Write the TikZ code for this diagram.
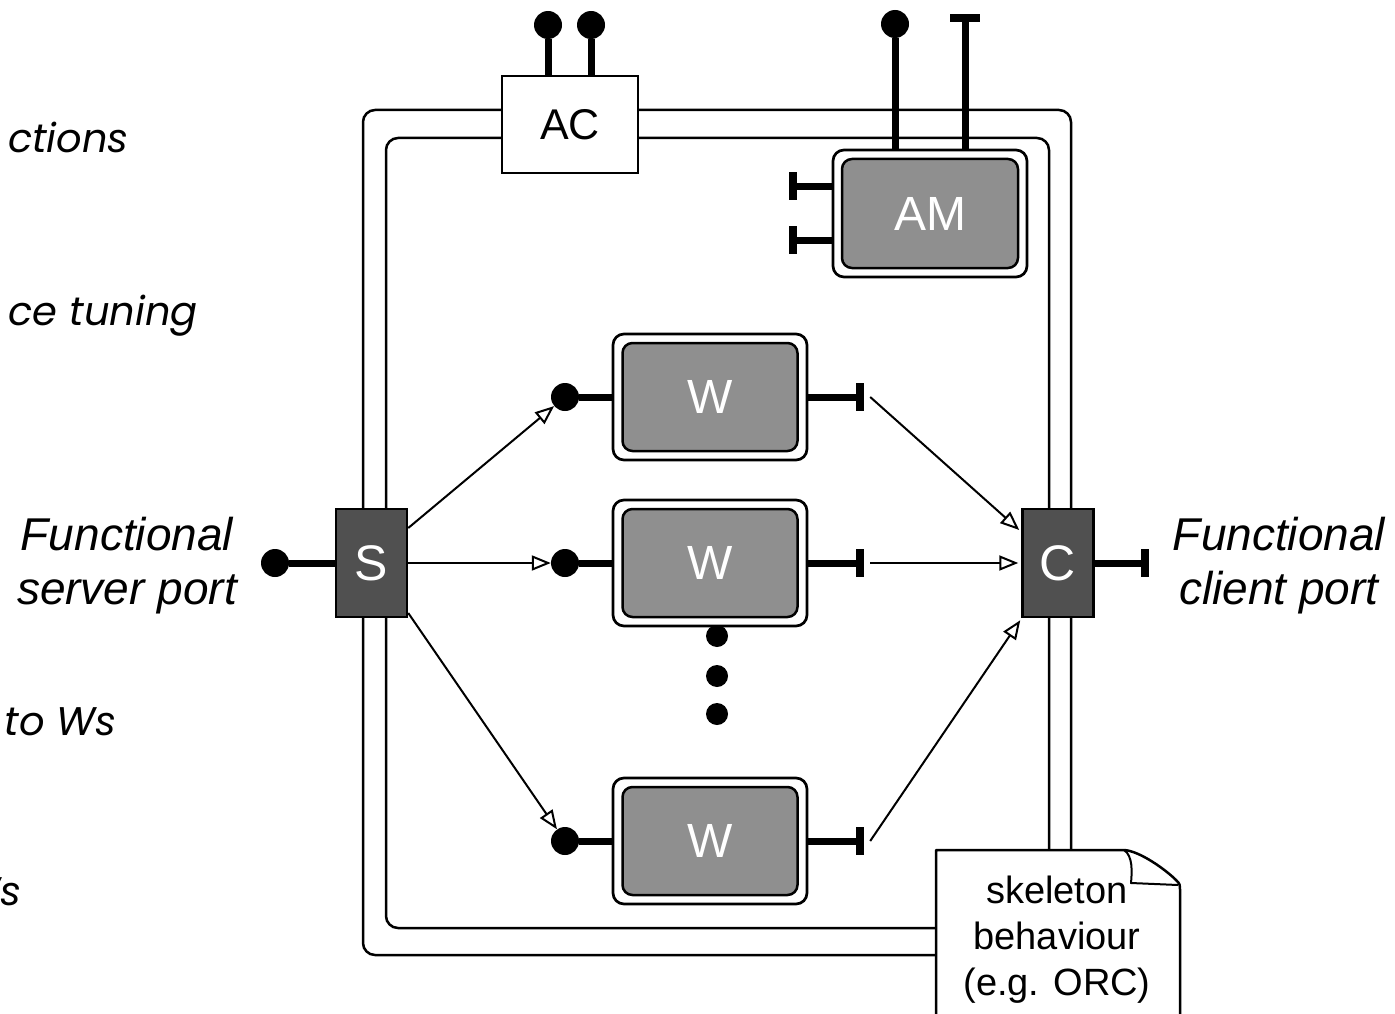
\documentclass[tikz,border=0pt]{standalone}
\usepackage{fontspec}
\setmainfont{Liberation Sans}
\newfontfamily\geofont{Poppins}
\usetikzlibrary{arrows.meta,calc}
\definecolor{boxgray}{HTML}{8F8F8F}
\definecolor{portgray}{HTML}{505050}
\begin{document}
\begin{tikzpicture}[x=1pt,y=-1pt,
  frame/.style={draw=black, line width=2.5pt, rounded corners=12pt},
  shell/.style={draw=black, fill=white, line width=2.7pt, rounded corners=11pt,
    minimum width=194pt, minimum height=126pt, inner sep=0pt},
  core/.style={draw=black, fill=boxgray, line width=2.5pt, rounded corners=10pt,
    minimum width=175pt, minimum height=108pt, inner sep=0pt, text=white,
    font=\fontsize{48}{56}\selectfont},
  portbox/.style={draw=black, fill=portgray, line width=2.5pt, minimum width=71pt,
    minimum height=108pt, inner sep=0pt, text=white, font=\fontsize{50}{56}\selectfont},
  ball/.style={circle, fill=black, minimum size=28pt, inner sep=0pt},
  dot/.style={circle, fill=black, minimum size=22pt, inner sep=0pt},
  vbar/.style={rectangle, fill=black, minimum width=8pt, minimum height=28pt, inner sep=0pt},
  hbar/.style={rectangle, fill=black, minimum width=30pt, minimum height=8pt, inner sep=0pt},
  stem/.style={line width=7pt},
  flow/.style={line width=2pt, -{Triangle[open, length=19pt, width=15pt]}},
  portlabel/.style={align=center, font=\itshape\fontsize{46}{54}\selectfont},
  fragment/.style={anchor=base east, inner sep=0pt, font=\geofont\itshape\fontsize{40}{48}\selectfont},
]
\useasboundingbox (0,0) rectangle (1395,1014);
\clip (0,0) rectangle (1395,1014);

% side notes, partly off the left edge
\node[fragment] (frag1) at (129,153) {ctions};
\node[fragment] (frag2) at (198,325) {ce tuning};
\node[fragment] (frag3) at (117,735) {to Ws};
\node[fragment] (frag4) at (22,905) {Ws};

% skeleton frame (double rounded border)
\draw[frame] (363,110) rectangle (1071,955);
\draw[frame] (386,138) rectangle (1049,928);

% autonomic controller
\node[draw, fill=white, line width=2.5pt, minimum width=136pt, minimum height=97pt,
  inner sep=0pt, font=\fontsize{43}{48}\selectfont] (AC) at (570,124.5) {AC};
\node[ball] (acp1) at (548,25) {};
\node[ball] (acp2) at (591,25) {};
\draw[stem] (acp1) -- (acp1 |- AC.north);
\draw[stem] (acp2) -- (acp2 |- AC.north);

% autonomic manager
\node[shell, minimum height=127pt] (AM) at (930,213.5) {};
\node[core, minimum width=176pt, minimum height=109pt] (AMc) at (AM.center) {AM};
\node[ball] (amp1) at (895,24) {};
\node[hbar] (amp2) at (965,18) {};
\draw[stem] (amp1) -- (amp1 |- AM.north);
\draw[stem] (amp2) -- (amp2 |- AM.north);
\node[vbar] (aml1) at (793,186) {};
\node[vbar] (aml2) at (793,240) {};
\draw[stem] (aml1) -- (aml1 -| AM.west);
\draw[stem] (aml2) -- (aml2 -| AM.west);

% workers
\foreach \i/\y in {1/397, 2/563, 3/841} {
  \node[shell] (W\i) at (710,\y) {};
  \node[core] (W\i c) at (W\i.center) {W};
  \node[ball] (in\i) at (565,\y) {};
  \node[vbar] (out\i) at (860,\y) {};
  \draw[stem] (in\i) -- (W\i.west);
  \draw[stem] (W\i.east) -- (out\i);
}
\node[dot] (d1) at (717,636) {};
\node[dot] (d2) at (717,676) {};
\node[dot] (d3) at (717,714) {};

% emitter and collector
\node[portbox] (S) at (371.5,563) {S};
\node[portbox] (C) at (1058,563) {C};
\node[ball] (sin) at (275,563) {};
\node[vbar] (cout) at (1145,563) {};
\draw[stem] (sin) -- (S.west);
\draw[stem] (C.east) -- (cout);

% dispatch and gather streams
\draw[flow] ($(S.east)+(0,-35)$) -- (in1);
\draw[flow] (S.east) -- (in2);
\draw[flow] ($(S.east)+(0,50)$) -- (in3);
\draw[flow] ($(out1.east)+(6,0)$) -- ($(C.west)+(-2,-33)$);
\draw[flow] ($(out2.east)+(6,0)$) -- ($(C.west)+(-3,0)$);
\draw[flow] ($(out3.east)+(6,0)$) -- ($(C.south west)+(-1,2)$);

% port labels
\node[portlabel] (srvlabel) at (127,566) {Functional\\server port};
\node[portlabel] (clilabel) at (1279,566) {Functional\\client port};

% behaviour note with folded corner
\draw[line width=2.5pt, fill=white, line join=round]
  (936,1030) -- (936,850) -- (1124,850)
  .. controls (1140,851) and (1166,870) .. (1176,880)
  .. controls (1180,884) .. (1180,892) -- (1180,1030);
\draw[line width=2pt, line join=round]
  (1124,850) .. controls (1133,856) and (1132,872) .. (1131,883) -- (1178,885);
\node[align=center, font=\fontsize{38}{46}\selectfont] (notetext) at (1057,940)
  {skeleton\\behaviour\\(e.g. ORC)};
\end{tikzpicture}
\end{document}
